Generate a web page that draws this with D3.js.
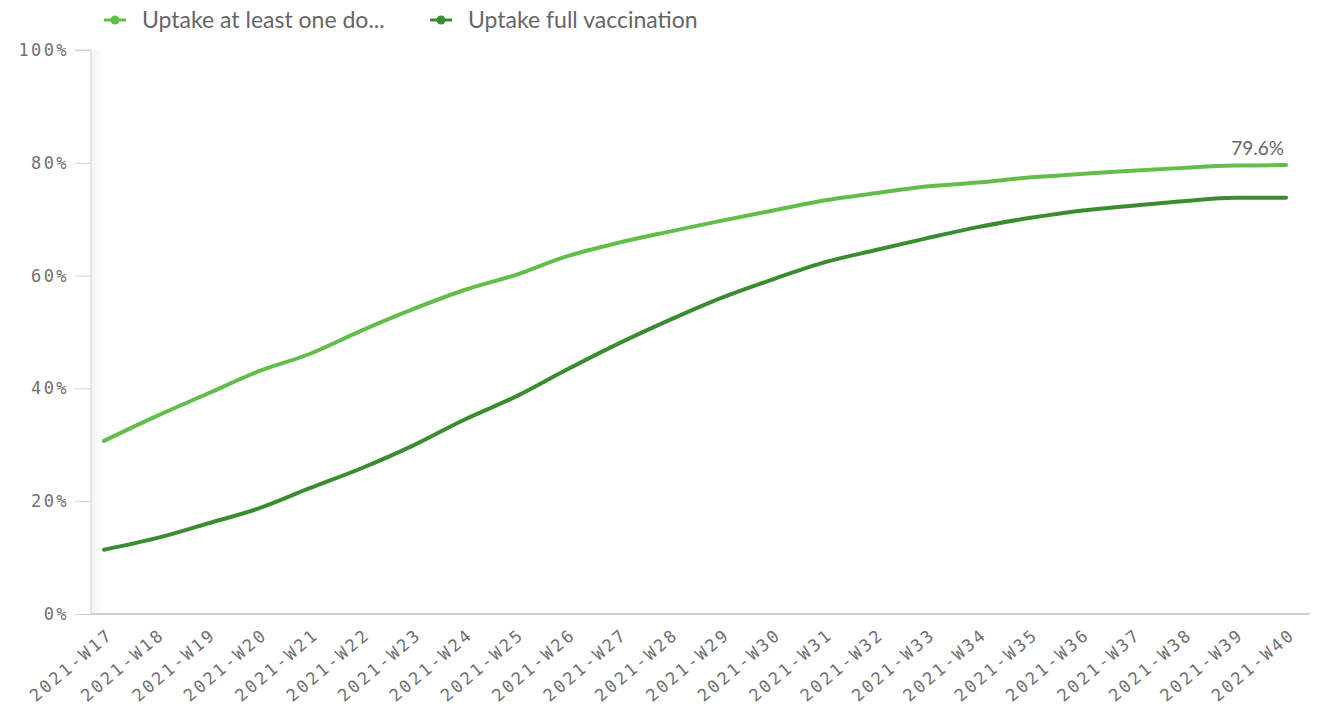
<!DOCTYPE html>
<html>
<head>
<meta charset="utf-8">
<script src="https://cdn.jsdelivr.net/npm/d3@7"></script>
<style>
  body { margin: 0; background: #fff; }
  #chart { position: relative; }
</style>
</head>
<body>
<div id="chart"></div>
<script>
// data
var weeks = ['2021-W17', '2021-W18', '2021-W19', '2021-W20', '2021-W21', '2021-W22',
  '2021-W23', '2021-W24', '2021-W25', '2021-W26', '2021-W27', '2021-W28',
  '2021-W29', '2021-W30', '2021-W31', '2021-W32', '2021-W33', '2021-W34',
  '2021-W35', '2021-W36', '2021-W37', '2021-W38', '2021-W39', '2021-W40'];
var oneDose = [30.7, 35.0, 39.0, 43.0, 46.1, 50.2, 54.0, 57.4, 60.1, 63.4, 65.8, 67.8,
  69.7, 71.5, 73.3, 74.6, 75.8, 76.5, 77.4, 78.0, 78.6, 79.1, 79.5, 79.6];
var fullVacc = [11.4, 13.4, 16.0, 18.7, 22.3, 25.8, 29.8, 34.4, 38.5, 43.3, 47.9, 52.1,
  56.0, 59.3, 62.3, 64.5, 66.6, 68.6, 70.2, 71.5, 72.4, 73.2, 73.8, 73.8];
var seriesNames = ['Uptake at least one do...', 'Uptake full vaccination'];
var yTicks = [0, 20, 40, 60, 80, 100];

var config = {
  width: 1319,
  height: 710,
  left: 91, // y axis position
  right: 1310,
  top: 50,
  bottom: 614,
  firstX: 104, // centre of first week
  lastX: 1286,
  colors: ['#62bd4a', '#3b8c30'],
  lineWidth: 4,
  axisColor: '#d0d0d0',
  textColor: '#666',
  monoFont: '"DejaVu Sans Mono", monospace',
  sansFont: 'Lato, "Open Sans", sans-serif'
};

var series = [
  { name: seriesNames[0], values: oneDose, color: config.colors[0] },
  { name: seriesNames[1], values: fullVacc, color: config.colors[1] }
];

// scales
var x = d3.scalePoint()
  .domain(weeks)
  .range([config.firstX, config.lastX]);
var y = d3.scaleLinear()
  .domain([0, 100])
  .range([config.bottom, config.top]);

var svg = d3.select('#chart')
  .append('svg')
  .attr('width', config.width)
  .attr('height', config.height);

// faint shade along the y axis
var grad = svg.append('defs').append('linearGradient')
  .attr('id', 'shade');
grad.append('stop').attr('offset', '0%').attr('stop-color', '#f2f2f2');
grad.append('stop').attr('offset', '100%').attr('stop-color', '#fff');
svg.append('rect')
  .attr('x', config.left)
  .attr('y', config.top)
  .attr('width', 12)
  .attr('height', config.bottom - config.top)
  .attr('fill', 'url(#shade)');

// y axis
var yAxis = d3.axisLeft(y)
  .tickValues(yTicks)
  .tickSize(16)
  .tickPadding(6)
  .tickFormat(function(d) { return d + '%'; });
var gy = svg.append('g')
  .attr('transform', 'translate(' + config.left + ',0)')
  .call(yAxis);
gy.select('.domain')
  .attr('d', 'M-16,' + config.top + 'H0V' + config.bottom);
gy.selectAll('path, line').attr('stroke', config.axisColor);
gy.selectAll('text')
  .attr('fill', '#707070')
  .style('font-family', config.monoFont)
  .style('font-size', '17px')
  .style('letter-spacing', '2.4px');

// x axis
var xAxis = d3.axisBottom(x).tickSize(0).tickPadding(0);
var gx = svg.append('g')
  .attr('transform', 'translate(0,' + config.bottom + ')')
  .call(xAxis);
gx.select('.domain')
  .attr('d', 'M' + config.left + ',0H' + config.right)
  .attr('stroke', config.axisColor)
  .attr('stroke-width', 2);
gx.selectAll('text')
  .attr('fill', '#707070')
  .style('font-family', config.monoFont)
  .style('font-size', '17px')
  .style('letter-spacing', '2.6px')
  .attr('text-anchor', 'end')
  .attr('dy', '0.35em')
  .attr('transform', 'translate(6,18) rotate(-40)');

// lines
var line = d3.line()
  .x(function(d, i) { return x(weeks[i]); })
  .y(function(d) { return y(d); })
  .curve(d3.curveMonotoneX);

svg.selectAll('.series')
  .data(series)
  .enter()
  .append('path')
  .attr('class', 'series')
  .attr('fill', 'none')
  .attr('stroke', function(d) { return d.color; })
  .attr('stroke-width', config.lineWidth)
  .attr('stroke-linecap', 'round')
  .attr('d', function(d) { return line(d.values); });

// value label on last point
var lastIdx = weeks.length - 1;
svg.append('text')
  .attr('x', x(weeks[lastIdx]) - 2)
  .attr('y', y(oneDose[lastIdx]) - 10)
  .attr('text-anchor', 'end')
  .attr('fill', config.textColor)
  .style('font-family', config.sansFont)
  .style('font-size', '19px')
  .text(oneDose[lastIdx].toFixed(1) + '%');

// legend
var legendX = [104, 430];
var legend = svg.selectAll('.legend')
  .data(series)
  .enter()
  .append('g')
  .attr('class', 'legend')
  .attr('transform', function(d, i) {
    return 'translate(' + legendX[i] + ',20)';
  });
legend.append('line')
  .attr('x1', 0)
  .attr('x2', 22)
  .attr('stroke', function(d) { return d.color; })
  .attr('stroke-width', 3);
legend.append('circle')
  .attr('cx', 11)
  .attr('r', 4.5)
  .attr('fill', function(d) { return d.color; });
legend.append('text')
  .attr('x', 38)
  .attr('dy', '0.35em')
  .attr('fill', config.textColor)
  .style('font-family', config.sansFont)
  .style('font-size', '23px')
  .text(function(d) { return d.name; });
</script>
</body>
</html>
